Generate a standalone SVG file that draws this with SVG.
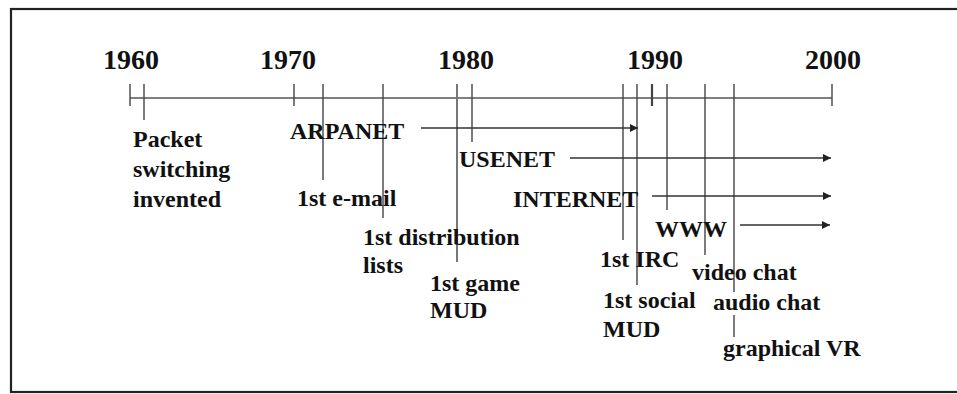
<svg xmlns="http://www.w3.org/2000/svg" width="957" height="394" viewBox="0 0 957 394">
<style>
  .frame { fill: none; stroke: #222; stroke-width: 2.2; }
  .axis { stroke: #555; stroke-width: 1.4; fill: none; }
  .tick { stroke: #444; stroke-width: 1.4; fill: none; }
  .arrow { stroke: #333; stroke-width: 1.4; fill: none; marker-end: url(#ah); }
  .yr { font-family: "Liberation Serif", "Times New Roman", serif; font-weight: bold; font-size: 28px; fill: #111; text-anchor: middle; }
  .lbl { font-family: "Liberation Serif", "Times New Roman", serif; font-weight: bold; font-size: 24px; fill: #111; }
</style>
<defs>
  <marker id="ah" viewBox="0 0 10 10" refX="10" refY="5" markerWidth="10" markerHeight="8" markerUnits="userSpaceOnUse" orient="auto">
    <path d="M0,0 L10,5 L0,10 z" fill="#222"/>
  </marker>
</defs>
<rect width="957" height="394" fill="#fff"/>
<rect class="frame" x="11" y="9" width="960" height="383"/>

<g id="timeline">
  <line class="axis" x1="130" y1="98" x2="832" y2="98"/>
  <line class="tick" x1="130" y1="84" x2="130" y2="106"/>
  <line class="tick" x1="294" y1="84" x2="294" y2="106"/>
  <line class="tick" x1="652" y1="84" x2="652" y2="106" style="stroke-width:2.2"/>
  <line class="tick" x1="832" y1="84" x2="832" y2="106"/>
  <text class="yr" x="131" y="69">1960</text>
  <text class="yr" x="288" y="69">1970</text>
  <text class="yr" x="466" y="69">1980</text>
  <text class="yr" x="655" y="69">1990</text>
  <text class="yr" x="833" y="69">2000</text>
</g>

<g id="connectors">
  <line class="tick" x1="144" y1="84" x2="144" y2="120"/>
  <line class="tick" x1="323" y1="84" x2="323" y2="180"/>
  <line class="tick" x1="383" y1="84" x2="383" y2="218"/>
  <line class="tick" x1="457" y1="84" x2="457" y2="262" style="stroke:#777;stroke-width:2"/>
  <line class="tick" x1="472" y1="84" x2="472" y2="142"/>
  <line class="tick" x1="623" y1="84" x2="623" y2="240"/>
  <line class="tick" x1="637" y1="84" x2="637" y2="285"/>
  <line class="tick" x1="667" y1="84" x2="667" y2="210"/>
  <line class="tick" x1="705" y1="84" x2="705" y2="255"/>
  <line class="tick" x1="734" y1="84" x2="734" y2="292"/>
  <line class="tick" x1="734" y1="315" x2="734" y2="337"/>
  <line class="arrow" x1="421" y1="128" x2="638" y2="128"/>
  <line class="arrow" x1="570" y1="158" x2="831" y2="158"/>
  <line class="arrow" x1="652" y1="196" x2="831" y2="196"/>
  <line class="arrow" x1="740" y1="225" x2="830" y2="225"/>
</g>

<g id="packet-switching">
  <text class="lbl" x="133" y="147">Packet</text>
  <text class="lbl" x="133" y="177">switching</text>
  <text class="lbl" x="133" y="207">invented</text>
</g>
<g id="arpanet"><text class="lbl" x="290" y="139">ARPANET</text></g>
<g id="email"><text class="lbl" x="297" y="206">1st e-mail</text></g>
<g id="distribution">
  <text class="lbl" x="363" y="245">1st distribution</text>
  <text class="lbl" x="363" y="273">lists</text>
</g>
<g id="game-mud">
  <text class="lbl" x="430" y="291">1st game</text>
  <text class="lbl" x="430" y="318">MUD</text>
</g>
<g id="usenet"><text class="lbl" x="459" y="167">USENET</text></g>
<g id="internet"><text class="lbl" x="513" y="207">INTERNET</text></g>
<g id="www"><text class="lbl" x="655" y="237">WWW</text></g>
<g id="irc"><text class="lbl" x="600" y="267">1st IRC</text></g>
<g id="video-chat"><text class="lbl" x="692" y="280">video chat</text></g>
<g id="social-mud">
  <text class="lbl" x="603" y="308">1st social</text>
  <text class="lbl" x="603" y="337">MUD</text>
</g>
<g id="audio-chat"><text class="lbl" x="713" y="310">audio chat</text></g>
<g id="graphical-vr"><text class="lbl" x="723" y="356">graphical VR</text></g>
</svg>
